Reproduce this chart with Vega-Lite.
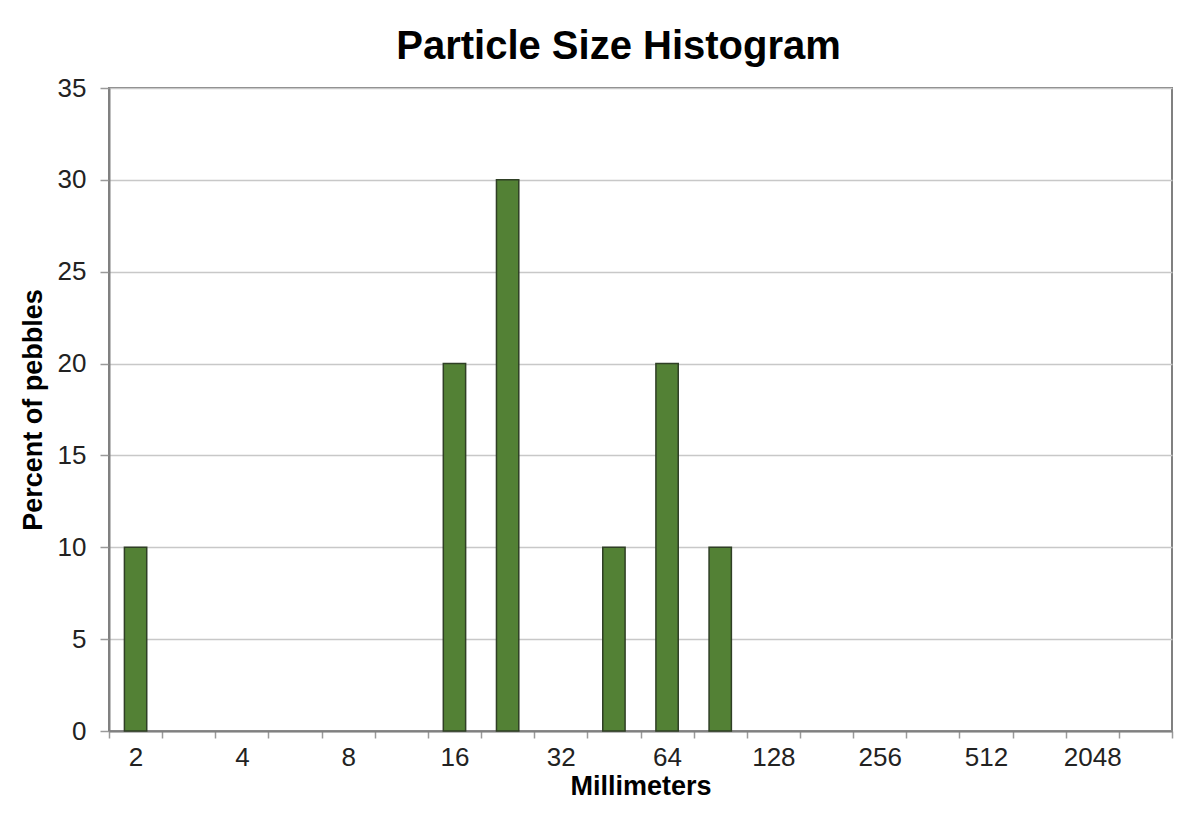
{
  "$schema": "https://vega.github.io/schema/vega-lite/v6.json",
  "width": 1063,
  "height": 643,
  "autosize": {"type": "none"},
  "padding": {"left": 109, "top": 88, "right": 19, "bottom": 84},
  "background": "white",
  "title": {
    "text": "Particle Size Histogram",
    "font": "Liberation Sans",
    "fontSize": 40,
    "fontWeight": "bold",
    "color": "#000000",
    "anchor": "middle",
    "frame": "group",
    "dx": -22,
    "offset": 8
  },
  "config": {
    "view": {"stroke": "#808080", "strokeWidth": 2},
    "axis": {
      "labelFont": "Liberation Sans",
      "titleFont": "Liberation Sans",
      "labelColor": "#222222",
      "titleColor": "#000000",
      "domainColor": "#808080",
      "domainWidth": 2,
      "tickColor": "#9a9a9a",
      "tickWidth": 1.5,
      "gridColor": "#c8c8c8",
      "gridWidth": 1.5
    }
  },
  "data": {
    "values": [
      {"size": "2", "pct": 10},
      {"size": "2-4", "pct": 0},
      {"size": "4", "pct": 0},
      {"size": "4-8", "pct": 0},
      {"size": "8", "pct": 0},
      {"size": "8-16", "pct": 0},
      {"size": "16", "pct": 20},
      {"size": "16-32", "pct": 30},
      {"size": "32", "pct": 0},
      {"size": "32-64", "pct": 10},
      {"size": "64", "pct": 20},
      {"size": "64-128", "pct": 10},
      {"size": "128", "pct": 0},
      {"size": "128-256", "pct": 0},
      {"size": "256", "pct": 0},
      {"size": "256-512", "pct": 0},
      {"size": "512", "pct": 0},
      {"size": "512-2048", "pct": 0},
      {"size": "2048", "pct": 0},
      {"size": "2048-4096", "pct": 0}
    ]
  },
  "mark": {"type": "bar", "color": "#538135", "stroke": "#2f3f25", "strokeWidth": 1.5, "width": {"band": 0.42}},
  "encoding": {
    "x": {
      "field": "size",
      "type": "nominal",
      "sort": null,
      "scale": {"paddingInner": 0, "paddingOuter": 0},
      "axis": {
        "title": "Millimeters",
        "titleFontSize": 27,
        "titleFontWeight": "bold",
        "titlePadding": 3,
        "labelAngle": 0,
        "labelFontSize": 26,
        "labelPadding": 6,
        "tickBand": "extent",
        "tickSize": 7,
        "labelExpr": "test(/-/, datum.label) ? '' : datum.label",
        "grid": false
      }
    },
    "y": {
      "field": "pct",
      "type": "quantitative",
      "scale": {"domain": [0, 35]},
      "axis": {
        "title": "Percent of pebbles",
        "titleFontSize": 27,
        "titleFontWeight": "bold",
        "titlePadding": 10,
        "values": [0, 5, 10, 15, 20, 25, 30, 35],
        "labelFontSize": 26,
        "labelPadding": 14,
        "tickSize": 9,
        "grid": true
      }
    },
    "strokeOpacity": {"condition": {"test": "datum.pct > 0", "value": 1}, "value": 0}
  }
}
